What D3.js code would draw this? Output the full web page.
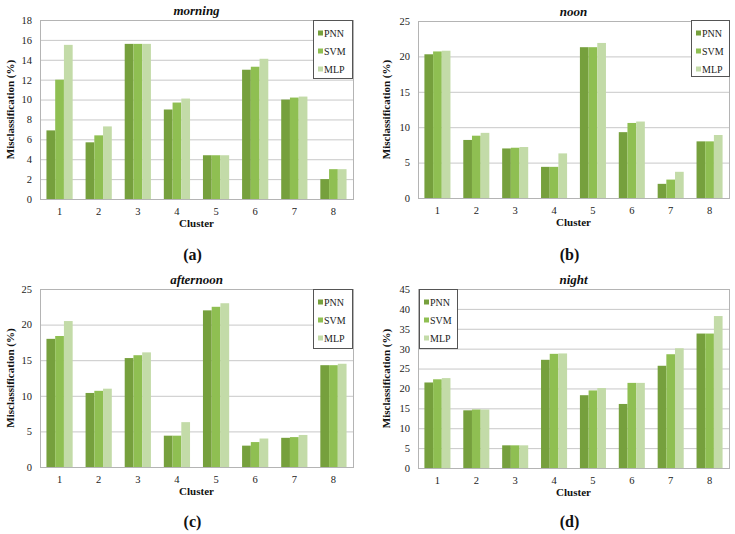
<!DOCTYPE html>
<html><head><meta charset="utf-8">
<script src="https://cdn.jsdelivr.net/npm/d3@7"></script>
<style>body{margin:0;background:#fff}svg{display:block}svg text{font-family:"Liberation Serif","DejaVu Serif",serif !important}</style>
</head><body>
<svg id="c" width="735" height="534"></svg>
<script>
const clusters = ["1","2","3","4","5","6","7","8"];
const seriesNames = ["PNN","SVM","MLP"];
const seriesColors = ["#76a03d","#8fbf52","#c3dba8"];

const morningPNN = [6.9, 5.7, 15.6, 9.0, 4.4, 13.0, 10.0, 2.0];
const morningSVM = [12.0, 6.4, 15.6, 9.7, 4.4, 13.3, 10.2, 3.0];
const morningMLP = [15.5, 7.3, 15.6, 10.1, 4.4, 14.1, 10.3, 3.0];

const noonPNN = [20.3, 8.2, 7.0, 4.4, 21.3, 9.3, 2.0, 8.0];
const noonSVM = [20.7, 8.8, 7.1, 4.4, 21.3, 10.6, 2.6, 8.0];
const noonMLP = [20.8, 9.2, 7.2, 6.3, 21.9, 10.8, 3.7, 8.9];

const afternoonPNN = [18.0, 10.4, 15.3, 4.4, 22.0, 3.0, 4.1, 14.3];
const afternoonSVM = [18.4, 10.7, 15.7, 4.4, 22.5, 3.5, 4.2, 14.3];
const afternoonMLP = [20.5, 11.0, 16.1, 6.3, 23.0, 4.0, 4.5, 14.5];

const nightPNN = [21.5, 14.5, 5.7, 27.2, 18.3, 16.1, 25.7, 33.8];
const nightSVM = [22.3, 14.7, 5.7, 28.7, 19.5, 21.4, 28.6, 33.8];
const nightMLP = [22.6, 14.7, 5.7, 28.8, 20.1, 21.4, 30.1, 38.2];

const morningTicks = [0,2,4,6,8,10,12,14,16,18];
const noonTicks = [0,5,10,15,20,25];
const afternoonTicks = [0,5,10,15,20,25];
const nightTicks = [0,5,10,15,20,25,30,35,40,45];

const FONT = "Liberation Serif, DejaVu Serif, serif";

const panels = [
  {title:"morning", label:"(a)", data:[morningPNN,morningSVM,morningMLP], ticks:morningTicks,
   x0:40, x1:353, y0:20, y1:199, ylabX:10, legend:{x:313,y:20,w:39,h:58}, capY:260},
  {title:"noon", label:"(b)", data:[noonPNN,noonSVM,noonMLP], ticks:noonTicks,
   x0:418, x1:729, y0:21, y1:198, ylabX:386, legend:{x:691,y:20,w:38,h:56}, capY:260},
  {title:"afternoon", label:"(c)", data:[afternoonPNN,afternoonSVM,afternoonMLP], ticks:afternoonTicks,
   x0:40, x1:353, y0:289, y1:467, ylabX:10, legend:{x:313,y:289,w:39,h:59}, capY:527},
  {title:"night", label:"(d)", data:[nightPNN,nightSVM,nightMLP], ticks:nightTicks,
   x0:418, x1:729, y0:289, y1:468, ylabX:386, legend:{x:419,y:289,w:38,h:59}, capY:527}
];

const svg = d3.select("#c").attr("font-family", FONT);

panels.forEach(p => {
  const g = svg.append("g");
  const maxT = p.ticks[p.ticks.length-1];
  const y = d3.scaleLinear().domain([0,maxT]).range([p.y1,p.y0]);
  const x = d3.scaleBand().domain(clusters).range([p.x0,p.x1]).paddingInner(0.33).paddingOuter(0.165);
  const xs = d3.scaleBand().domain(seriesNames).range([0,x.bandwidth()]);

  g.append("g").selectAll("line").data(p.ticks.slice(1)).join("line")
    .attr("x1",p.x0).attr("x2",p.x1).attr("y1",d=>y(d)+0.5).attr("y2",d=>y(d)+0.5)
    .attr("stroke","#c8c8c8").attr("stroke-width",1);

  seriesNames.forEach((s,si)=>{
    g.append("g").selectAll("rect").data(p.data[si]).join("rect")
      .attr("x",(d,i)=>x(clusters[i])+xs(s))
      .attr("width",xs.bandwidth())
      .attr("y",d=>y(d))
      .attr("height",d=>y(0)-y(d))
      .attr("fill",seriesColors[si]);
  });

  const ya = d3.axisLeft(y).tickValues(p.ticks).tickSize(0).tickPadding(8);
  const yg = g.append("g").attr("transform",`translate(${p.x0},0)`).call(ya).attr("font-family",FONT);
  yg.select(".domain").attr("stroke","#8c8c8c");
  yg.selectAll("text").attr("font-size",10.5).attr("fill","#222");

  const xa = d3.axisBottom(x).tickSize(0).tickPadding(9);
  const xg = g.append("g").attr("transform",`translate(0,${p.y1})`).call(xa).attr("font-family",FONT);
  xg.select(".domain").attr("stroke","#8c8c8c");
  xg.selectAll("text").attr("font-size",10.5).attr("fill","#222");

  g.append("rect").attr("x",p.x0+0.5).attr("y",p.y0+0.5).attr("width",p.x1-p.x0).attr("height",p.y1-p.y0)
    .attr("fill","none").attr("stroke","#b4b4b4");

  g.append("text").attr("x",(p.x0+p.x1)/2).attr("y",p.y0-5).attr("text-anchor","middle")
    .attr("font-size",13).attr("font-weight","bold").attr("font-style","italic").attr("fill","#111").text(p.title);

  g.append("text").attr("x",(p.x0+p.x1)/2).attr("y",p.y1+28).attr("text-anchor","middle")
    .attr("font-size",11).attr("font-weight","bold").attr("fill","#111").text("Cluster");
  g.append("text").attr("transform",`translate(${p.ylabX},${(p.y0+p.y1)/2}) rotate(-90)`)
    .attr("text-anchor","middle").attr("dy","0.35em")
    .attr("font-size",11).attr("font-weight","bold").attr("fill","#111").text("Misclassification (%)");

  const L = p.legend;
  g.append("rect").attr("x",L.x+0.5).attr("y",L.y+0.5).attr("width",L.w).attr("height",L.h)
    .attr("fill","#fff").attr("stroke","#555").attr("stroke-width",1);
  seriesNames.forEach((s,si)=>{
    const cy = L.y + 13 + si*18;
    g.append("rect").attr("x",L.x+5).attr("y",cy-2.5).attr("width",5).attr("height",5).attr("fill",seriesColors[si]);
    g.append("text").attr("x",L.x+11).attr("y",cy).attr("dy","0.35em")
      .attr("font-size",10).attr("fill","#222").text(s);
  });

  g.append("text").attr("x",(p.x0+p.x1)/2 - 4).attr("y",p.capY).attr("text-anchor","middle")
    .attr("font-size",16).attr("font-weight","bold").attr("fill","#111").text(p.label);
});
</script>
</body></html>
